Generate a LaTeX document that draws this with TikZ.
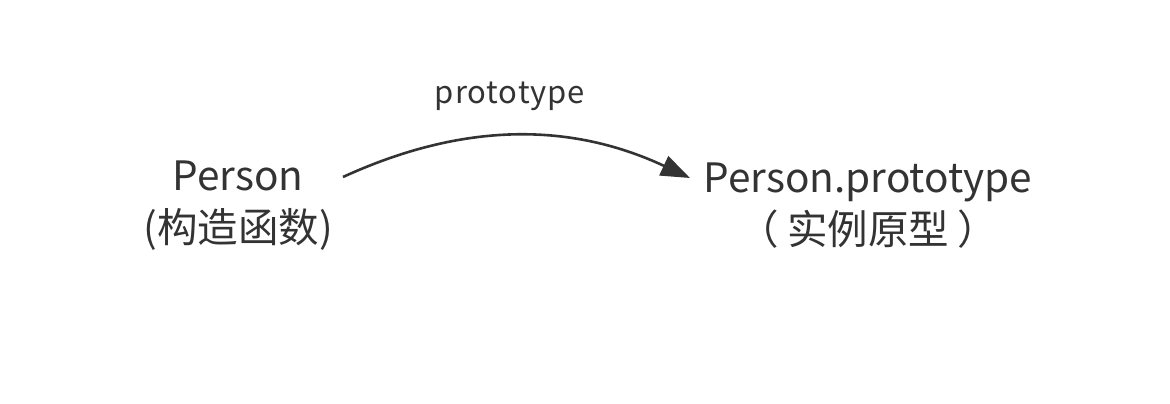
\documentclass[tikz,border=0pt]{standalone}
\usepackage{fontspec}
\setmainfont{Noto Sans CJK SC}
\usetikzlibrary{arrows.meta}
\definecolor{ink}{HTML}{333333}
\tikzset{
  lbl/.style={text=ink, font=\fontsize{40.5}{52}\selectfont, align=center, inner sep=0pt},
  edgelbl/.style={text=ink, font=\fontsize{31}{36}\selectfont\addfontfeatures{LetterSpace=3}, inner sep=0pt},
  arr/.style={draw=ink, line width=2.6pt, -{Triangle[length=29pt,width=21pt]}}
}
\begin{document}
\begin{tikzpicture}[x=1pt,y=1pt]
\useasboundingbox (0,0) rectangle (1170,404);
\node[lbl] (ctor) at (238,198) {Person\\(构造函数)};
\node[lbl] (proto) at (868,198) {Person.prototype\\（\hspace{0.2em}实例原型\hspace{0.2em}）};
\coordinate (s) at ([shift={(105,29)}]ctor.center);
\coordinate (e) at ([shift={(-178,28)}]proto.center);
\draw[arr] (s) .. controls +(120,55) and +(-120,56) .. (e);
\node[edgelbl] (plabel) at (510,308) {prototype};
\end{tikzpicture}
\end{document}
